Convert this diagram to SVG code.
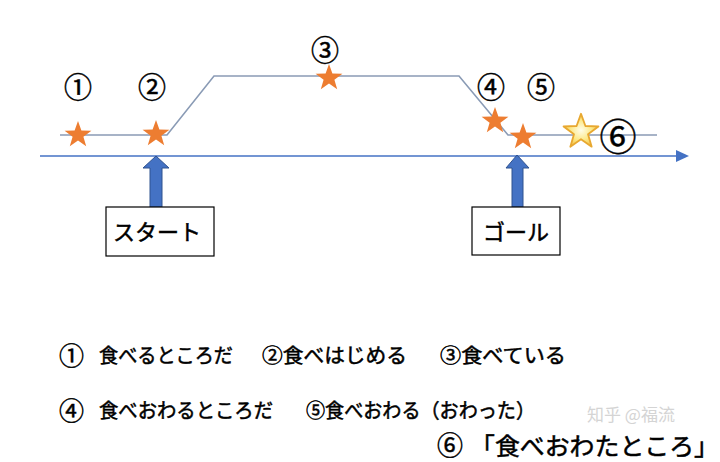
<svg xmlns="http://www.w3.org/2000/svg" width="720" height="462" viewBox="0 0 720 462">
<defs>
<style>
.jp{font-family:"Noto Sans CJK JP","Noto Sans",sans-serif;fill:#000;font-weight:normal;stroke:#000;stroke-width:0.5}
.num{font-family:"Noto Sans CJK JP","DejaVu Sans",sans-serif;fill:#000;text-anchor:middle;dominant-baseline:central;stroke:#000;stroke-width:0.5}
.path{fill:none;stroke:#8a9bb5;stroke-width:1.6}
.axis{fill:none;stroke:#4472C4;stroke-width:1.6}
.star{fill:#ED7D31}
.uparrow{fill:#4472C4;stroke:#2F528F;stroke-width:1}
.box{fill:#fff;stroke:#000;stroke-width:1.2}
</style>
<radialGradient id="gold" cx="0.5" cy="0.5" r="0.6">
<stop offset="0" stop-color="#FFFDE8"/>
<stop offset="0.5" stop-color="#FCE98A"/>
<stop offset="1" stop-color="#F2B52C"/>
</radialGradient>
<polygon id="st" points="0,-14 3.4,-4.6 13.4,-4.3 5.4,1.7 8.2,11.3 0,5.6 -8.2,11.3 -5.4,1.7 -13.4,-4.3 -3.4,-4.6"/>
</defs>

<g id="connectors">
<polyline class="path" points="60,135 167,135 214,76 459,76 508,135 657,135"/>
<line class="axis" x1="40" y1="156" x2="678" y2="156"/>
<polygon points="676,150 689,156 676,162" fill="#4472C4"/>
</g>

<g id="stars">
<use href="#st" class="star" x="78" y="135"/>
<use href="#st" class="star" x="156" y="134"/>
<use href="#st" class="star" x="329" y="78"/>
<use href="#st" class="star" x="495" y="121"/>
<use href="#st" class="star" x="523" y="137"/>
<g id="star6" transform="translate(581,132) scale(1.3)">
<polygon points="0,-14 3.4,-4.6 13.4,-4.3 5.4,1.7 8.2,11.3 0,5.6 -8.2,11.3 -5.4,1.7 -13.4,-4.3 -3.4,-4.6" fill="url(#gold)" stroke="#E8A830" stroke-width="1.4" stroke-linejoin="round"/>
</g>
</g>

<g id="top-labels">
<text class="num" x="78" y="86" font-size="28">①</text>
<text class="num" x="152" y="86" font-size="28">②</text>
<text class="num" x="325" y="49" font-size="28">③</text>
<text class="num" x="491" y="86" font-size="28">④</text>
<text class="num" x="541" y="86" font-size="28">⑤</text>
<text class="num" x="618" y="135" font-size="37">⑥</text>
</g>

<g id="start">
<polygon class="uparrow" points="156,156 169,168 162,168 162,207 150,207 150,168 143,168"/>
<rect class="box" x="106" y="207" width="108" height="49"/>
<text class="jp" x="157" y="240" font-size="22" text-anchor="middle">スタート</text>
</g>

<g id="goal">
<polygon class="uparrow" points="517,155 529,168 523,168 523,207 512,207 512,168 506,168"/>
<rect class="box" x="472" y="207" width="88" height="48"/>
<text class="jp" x="516" y="240" font-size="22" text-anchor="middle">ゴール</text>
</g>

<g id="legend">
<text class="jp" x="59" y="365" font-size="25">①</text>
<text class="jp" x="99" y="363" font-size="20" textLength="134" lengthAdjust="spacingAndGlyphs">食べるところだ</text>
<text class="jp" x="262" y="363" font-size="20" textLength="145" lengthAdjust="spacingAndGlyphs">②食べはじめる</text>
<text class="jp" x="440" y="363" font-size="20" textLength="126" lengthAdjust="spacingAndGlyphs">③食べている</text>
<text class="jp" x="59" y="420" font-size="25">④</text>
<text class="jp" x="99" y="418" font-size="20" textLength="174" lengthAdjust="spacingAndGlyphs">食べおわるところだ</text>
<text class="jp" x="306" y="418" font-size="20" textLength="229" lengthAdjust="spacingAndGlyphs">⑤食べおわる（おわった）</text>
<text x="587" y="421" font-size="17" font-family="Noto Sans CJK SC,sans-serif" fill="#d4d4d4">知乎 @福流</text>
<text class="jp" x="437" y="455" font-size="26">⑥</text>
<text class="jp" x="470" y="455" font-size="24" textLength="249" lengthAdjust="spacingAndGlyphs">「食べおわたところ」</text>
</g>
</svg>
